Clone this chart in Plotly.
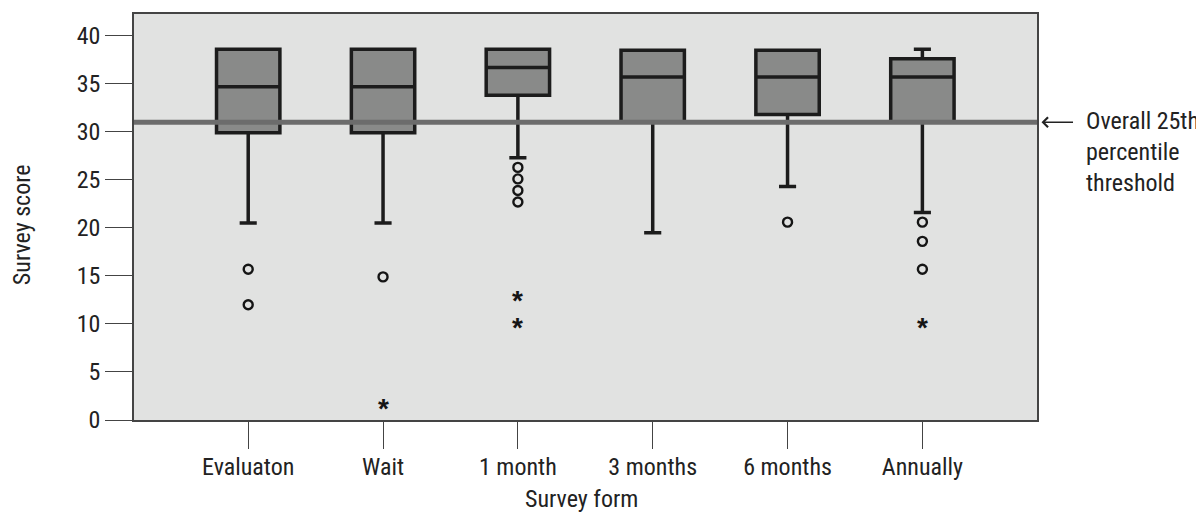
import plotly.graph_objects as go

categories = ["Evaluaton", "Wait", "1 month", "3 months", "6 months", "Annually"]
q1 = [29.9, 29.9, 33.8, 31.0, 31.8, 31.0]
median = [34.7, 34.7, 36.7, 35.7, 35.7, 35.7]
q3 = [38.6, 38.6, 38.6, 38.5, 38.5, 37.6]
lowerfence = [20.5, 20.5, 27.3, 19.5, 24.3, 21.6]
upperfence = [38.6, 38.6, 38.6, 38.5, 38.5, 38.6]

circle_cats = ["Evaluaton", "Evaluaton", "Wait", "1 month", "1 month", "1 month", "1 month",
               "6 months", "Annually", "Annually", "Annually"]
circle_vals = [15.7, 12.0, 14.9, 26.3, 25.1, 23.9, 22.7, 20.6, 20.6, 18.6, 15.7]

star_cats = ["Wait", "1 month", "1 month", "Annually"]
star_vals = [1.6, 12.8, 10.0, 10.0]

threshold = 31.0
threshold_label = "Overall 25th<br>percentile<br>threshold"
y_ticks = [0, 5, 10, 15, 20, 25, 30, 35, 40]

FONT = "Roboto Condensed, Liberation Sans Narrow, Arial Narrow, sans-serif"
FS = 24

fig = go.Figure()
fig.add_trace(go.Box(
    x=categories, q1=q1, median=median, q3=q3,
    lowerfence=lowerfence, upperfence=upperfence,
    fillcolor="#898a89", line=dict(color="#1c1c1c", width=3.5),
    width=0.47, whiskerwidth=0.27, boxpoints=False, showlegend=False,
    hoverinfo="skip",
))
fig.add_trace(go.Scatter(
    x=circle_cats, y=circle_vals, mode="markers", showlegend=False,
    marker=dict(symbol="circle-open", size=9, color="#151515", line=dict(width=2.4, color="#151515")),
))
for c, v in zip(star_cats, star_vals):
    fig.add_annotation(x=c, y=v, xref="x", yref="y", text="<b>*</b>", showarrow=False,
                       yshift=-3.5, font=dict(family="Liberation Sans, Arial, sans-serif", size=28, color="#151515"))

fig.add_shape(type="line", xref="paper", x0=0, x1=1, yref="y", y0=threshold, y1=threshold,
              line=dict(color="#6c6c6c", width=5), layer="above")

fig.add_annotation(xref="paper", yref="y", x=1.005, y=threshold, ax=33, ay=0, text="",
                   showarrow=True, arrowhead=4, arrowsize=1.2, arrowwidth=1.6, arrowcolor="#222")
fig.add_annotation(xref="paper", yref="y", x=1.052, y=threshold, text=threshold_label,
                   showarrow=False, xanchor="left", yanchor="top", align="left", yshift=17,
                   font=dict(family=FONT, size=FS, color="#222"))

fig.add_annotation(xref="paper", yref="paper", x=0.496, y=-0.194, text="Survey form",
                   showarrow=False, xanchor="center", yanchor="middle",
                   font=dict(family=FONT, size=FS, color="#222"))
fig.add_annotation(xref="paper", yref="paper", x=-0.124, y=0.48, text="Survey score",
                   showarrow=False, xanchor="center", yanchor="middle", textangle=-90,
                   font=dict(family=FONT, size=FS, color="#222"))

fig.update_layout(
    width=1196, height=506,
    margin=dict(l=126, r=166.5, t=4, b=94),
    paper_bgcolor="white", plot_bgcolor="#e1e2e1",
    font=dict(family=FONT, size=FS, color="#222"),
    xaxis=dict(type="category", categoryorder="array", categoryarray=categories,
               range=[-0.847, 5.85], showgrid=False, zeroline=False,
               showline=True, mirror=True, linecolor="#444", linewidth=1.5,
               ticks="outside", ticklen=27, tickwidth=1.2, tickcolor="#444",
               ticklabelstandoff=-3,
               tickfont=dict(family=FONT, size=FS, color="#222")),
    yaxis=dict(range=[0, 42.27], tickvals=y_ticks,
               showgrid=False, zeroline=False,
               showline=True, mirror=True, linecolor="#444", linewidth=1.5,
               ticks="outside", ticklen=27, tickwidth=1.2, tickcolor="#444",
               tickfont=dict(family=FONT, size=FS, color="#222")),
)

fig.write_html("out.html")
